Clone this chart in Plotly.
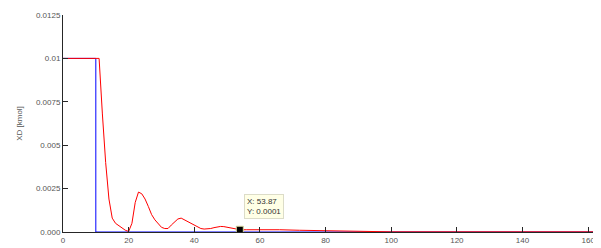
import plotly.graph_objects as go

# Data
blue_x = [0, 10, 10, 163]
blue_y = [0.01, 0.01, 0.0, 0.0]

red_x = [0, 11, 12, 13, 14, 15, 16, 17, 18, 19, 20, 21, 22, 23, 24, 25, 26, 27, 28, 29,
         30, 31, 32, 33, 34, 35, 36, 37, 38, 39, 40, 41, 42, 43, 44, 45, 46, 47, 48, 49,
         50, 51, 52, 53, 54, 56, 60, 66, 72, 78, 85, 94, 100, 163]
red_y = [0.01, 0.01, 0.0068, 0.0040, 0.0019, 0.0008, 0.0005, 0.00035, 0.00022, 0.0001,
         0.00003, 0.0005, 0.0017, 0.0023, 0.0022, 0.0019, 0.00147, 0.001, 0.0007, 0.00045,
         0.00027, 0.0002, 0.0002, 0.0004, 0.00055, 0.00075, 0.0008, 0.0007, 0.0006, 0.00048,
         0.00036, 0.00026, 0.0002, 0.00017, 0.00017, 0.0002, 0.00025, 0.0003, 0.00032, 0.00031,
         0.00028, 0.00023, 0.00018, 0.00015, 0.00013, 0.00013, 0.00014, 0.00013, 0.0001, 0.00008,
         0.00005, 0.00002, 0.00001, 0.00001]

tip_x = [53.87]
tip_y = [0.00013]
tip_text = "X: 53.87<br>Y: 0.0001"

x_ticks = [0, 20, 40, 60, 80, 100, 120, 140, 160]
x_ticktext = ["0", "20", "40", "60", "80", "100", "120", "140", "160"]
y_ticks = [0, 0.0025, 0.005, 0.0075, 0.01, 0.0125]
y_ticktext = ["0.000", "0.0025", "0.005", "0.0075", "0.01", "0.0125"]
y_title = "XD [kmol]"

fig = go.Figure()
fig.add_trace(go.Scatter(x=blue_x, y=blue_y, mode="lines",
                         line=dict(color="#0000ff", width=1), showlegend=False))
fig.add_trace(go.Scatter(x=red_x, y=red_y, mode="lines",
                         line=dict(color="#ff0000", width=1), showlegend=False))
fig.add_trace(go.Scatter(x=tip_x, y=tip_y, mode="markers",
                         marker=dict(symbol="square", size=7, color="black",
                                     line=dict(color="#d8d8a0", width=1)),
                         showlegend=False))

fig.add_annotation(x=tip_x[0], y=tip_y[0], text=tip_text, showarrow=False,
                   xanchor="left", yanchor="bottom", xshift=4, yshift=11,
                   align="left", bgcolor="#ffffe6", bordercolor="#dcdcc8",
                   borderwidth=1, borderpad=2,
                   font=dict(family="Liberation Sans, Arial", size=8, color="#333333"))

axis_common = dict(showline=True, linecolor="#262626", linewidth=1,
                   ticks="inside", ticklen=5, tickcolor="#262626",
                   showgrid=False, zeroline=False,
                   tickfont=dict(family="Liberation Sans, Arial", size=8, color="#555555"))

fig.update_xaxes(range=[0, 163], tickvals=x_ticks, ticktext=x_ticktext, **axis_common)
fig.update_yaxes(range=[0, 0.0125], tickvals=y_ticks, ticktext=y_ticktext,
                 title=dict(text=y_title, standoff=12,
                            font=dict(family="Liberation Sans, Arial", size=8, color="#555555")),
                 **axis_common)

fig.update_layout(width=593, height=240, margin=dict(l=55, r=3, t=7, b=16),
                  paper_bgcolor="white", plot_bgcolor="white")

fig.write_html("out.html")
